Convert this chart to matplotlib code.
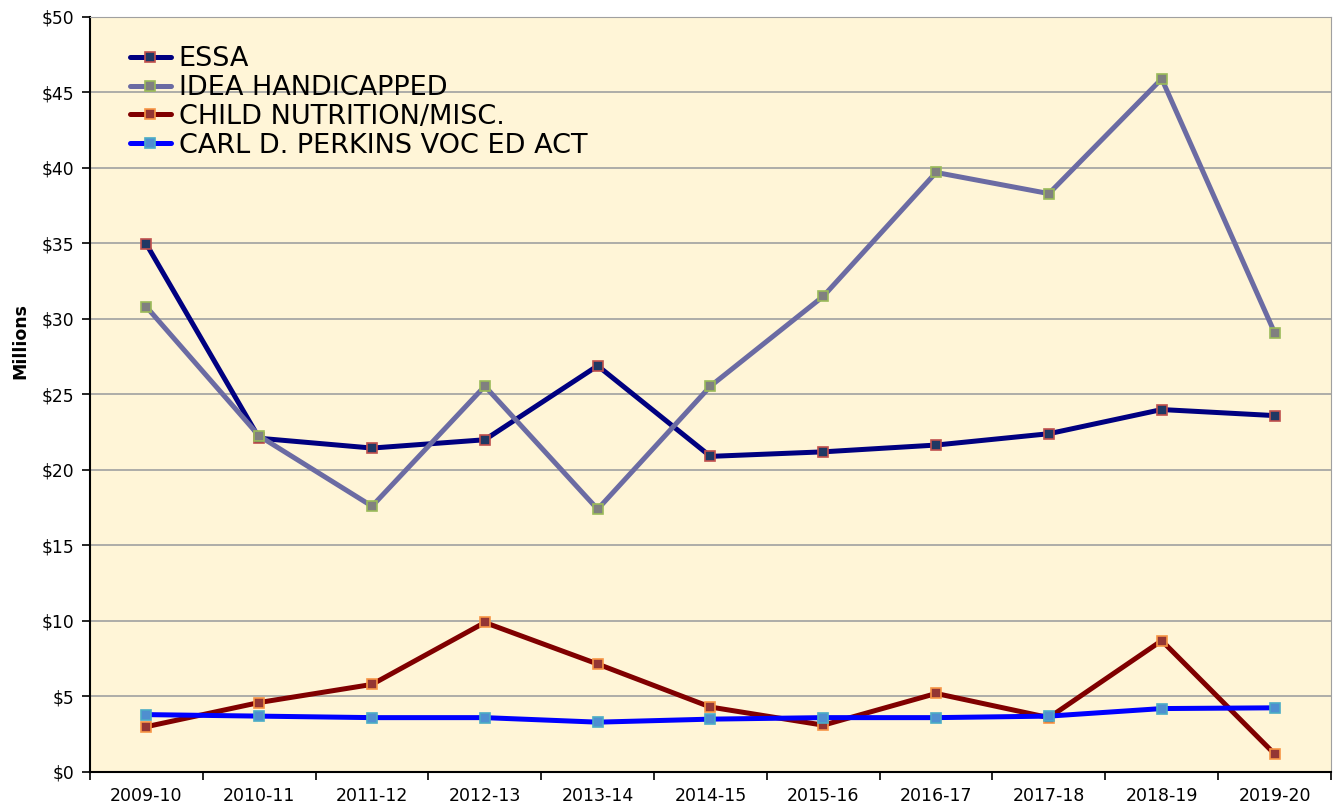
import matplotlib
matplotlib.use("Agg")
import matplotlib.pyplot as plt
from matplotlib.ticker import FixedLocator, NullFormatter

plt.rcParams['font.family'] = ['DejaVu Sans']

years = ["2009-10", "2010-11", "2011-12", "2012-13", "2013-14", "2014-15",
         "2015-16", "2016-17", "2017-18", "2018-19", "2019-20"]
essa = [34.95, 22.1, 21.45, 22.0, 26.9, 20.9, 21.2, 21.65, 22.4, 24.0, 23.6]
idea = [30.8, 22.25, 17.6, 25.55, 17.4, 25.55, 31.5, 39.7, 38.3, 45.9, 29.1]
child = [3.0, 4.6, 5.8, 9.9, 7.15, 4.3, 3.1, 5.2, 3.6, 8.7, 1.2]
perkins = [3.8, 3.7, 3.6, 3.6, 3.3, 3.5, 3.6, 3.6, 3.7, 4.2, 4.25]
yticks = [0, 5, 10, 15, 20, 25, 30, 35, 40, 45, 50]

series = [
    ("ESSA", essa, "#000080", "#1F3864", "#C0504D"),
    ("IDEA HANDICAPPED", idea, "#6B6BA3", "#808080", "#9BBB59"),
    ("CHILD NUTRITION/MISC.", child, "#800000", "#943634", "#F79646"),
    ("CARL D. PERKINS VOC ED ACT", perkins, "#0000FF", "#4F8FD0", "#4BACC6"),
]

fig = plt.figure(figsize=(13.41, 8.05), dpi=100)
ax = fig.add_axes([0.0671, 0.041, 0.9254, 0.938])
ax.set_facecolor("#FFF5D7")

x = list(range(len(years)))
for name, vals, lc, mfc, mec in series:
    ax.plot(x, vals, color=lc, lw=3.6, marker="s", ms=6.5, mfc=mfc, mec=mec,
            mew=1.2, label=name, zorder=3, solid_capstyle="round")

ax.set_xlim(-0.5, len(years) - 0.5)
ax.set_ylim(0, 50)
ax.set_yticks(yticks)
ax.set_yticklabels([f"${v}" for v in yticks], fontsize=12.3)
ax.set_xticks(x)
ax.set_xticklabels(years, fontsize=12.5)
ax.tick_params(axis="x", which="major", length=0, pad=11)
ax.xaxis.set_minor_locator(FixedLocator([i + 0.5 for i in range(-1, len(years))]))
ax.xaxis.set_minor_formatter(NullFormatter())
ax.tick_params(axis="x", which="minor", length=6, width=1.2, direction="out")
ax.tick_params(axis="y", length=6, width=1.2, direction="out", pad=5)

ax.grid(axis="y", color="#A0A0A0", lw=1.2, zorder=1)
ax.set_axisbelow(True)
ax.spines["left"].set_color("black")
ax.spines["left"].set_linewidth(1.5)
ax.spines["bottom"].set_color("black")
ax.spines["bottom"].set_linewidth(1.5)
ax.spines["top"].set_color("#A0A0A0")
ax.spines["right"].set_color("#A0A0A0")

ax.set_ylabel("Millions", fontsize=12.5, fontweight="bold")
ax.yaxis.set_label_coords(-0.0485, 0.571)

leg = ax.legend(loc="upper left", bbox_to_anchor=(0.017, 0.986), frameon=False,
                fontsize=19.5, handlelength=1.5, handletextpad=0.3,
                labelspacing=0.1, borderaxespad=0.3)

fig.savefig("out.png", dpi=100, facecolor="white")
